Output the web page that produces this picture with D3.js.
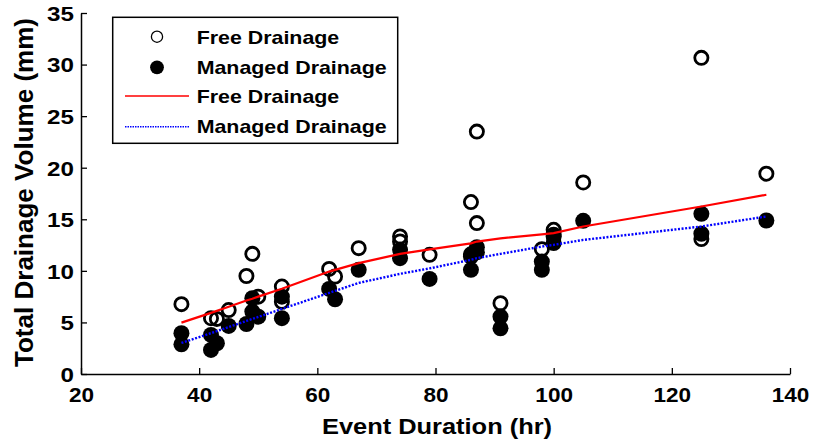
<!DOCTYPE html>
<html><head><meta charset="utf-8">
<script src="https://cdn.jsdelivr.net/npm/d3@7"></script>
<style>
html,body{margin:0;padding:0;background:#fff;}
text{font-family:"Liberation Sans",Arial,sans-serif;font-weight:bold;fill:#000;}
</style></head>
<body>
<svg id="chart" width="819" height="442"></svg>
<script>
// ---- data ----
const xTicks = [20, 40, 60, 80, 100, 120, 140];
const yTicks = [0, 5, 10, 15, 20, 25, 30, 35];

const freeX = [37, 42, 43, 45, 48, 49, 50, 54, 54, 62, 63, 67, 74, 74, 79, 86, 86, 87, 87, 91, 98, 100, 100, 105, 125, 125, 136];
const freeY = [6.77, 5.41, 5.34, 6.2, 9.5, 11.65, 7.5, 8.48, 7.0, 10.19, 9.45, 12.2, 13.33, 12.85, 11.55, 16.67, 11.6, 23.5, 14.63, 6.86, 12.1, 13.98, 13.5, 18.57, 30.65, 13.08, 19.42];

const managedX = [37, 37, 42, 42, 43, 45, 48, 49, 49, 50, 54, 54, 62, 63, 67, 74, 74, 79, 86, 86, 87, 87, 91, 91, 98, 98, 100, 100, 105, 125, 125, 136];
const managedY = [3.95, 2.88, 3.79, 2.33, 2.98, 4.66, 4.85, 7.35, 6.05, 5.56, 7.5, 5.41, 8.25, 7.25, 10.1, 12.04, 11.23, 9.22, 11.39, 10.1, 12.3, 11.8, 5.57, 4.43, 10.9, 10.1, 13.33, 12.69, 14.85, 15.53, 13.6, 14.88];

const fitX = [37, 42, 45, 48, 49, 50, 54, 62, 63, 67, 74, 79, 86, 87, 91, 98, 100, 105, 125, 136];
const fitFree = [4.98, 5.93, 6.52, 7.12, 7.30, 7.50, 8.27, 9.93, 10.1, 10.75, 11.65, 12.09, 12.67, 12.84, 13.15, 13.54, 13.66, 14.3, 16.24, 17.38];
const fitManaged = [3.01, 3.96, 4.55, 5.14, 5.34, 5.53, 6.31, 7.86, 8.06, 8.83, 9.71, 10.24, 11.07, 11.23, 11.65, 12.36, 12.52, 13.0, 14.3, 15.27];

const legendLabels = ["Free Drainage", "Managed Drainage", "Free Drainage", "Managed Drainage"];

// ---- drawing ----
const svg = d3.select("#chart");
const x = d3.scaleLinear().domain([20, 140]).range([81, 790]);
const y = d3.scaleLinear().domain([0, 35]).range([374, 13]);

function stretch(sel, k) {
  sel.each(function () {
    const w = this.getComputedTextLength();
    d3.select(this).attr("textLength", w * k).attr("lengthAdjust", "spacingAndGlyphs");
  });
}

// axes
const gx = svg.append("g").attr("transform", "translate(0,374)")
  .call(d3.axisBottom(x).tickValues(xTicks).tickSizeInner(-6).tickSizeOuter(0).tickPadding(13));
const gy = svg.append("g").attr("transform", "translate(81,0)")
  .call(d3.axisLeft(y).tickValues(yTicks).tickSizeInner(-6).tickSizeOuter(0).tickPadding(7));
[gx, gy].forEach(g => {
  g.select(".domain").attr("stroke", "#000").attr("stroke-width", 1.5);
  g.selectAll(".tick line").attr("stroke", "#000").attr("stroke-width", 1.3);
  g.selectAll(".tick text").style("font-family", "'Liberation Sans',Arial,sans-serif")
    .style("font-weight", "bold").style("font-size", "20.5px").attr("fill", "#000");
});
gy.selectAll(".tick text").attr("dy", "0.36em");
stretch(gx.selectAll(".tick text"), 1.1);
stretch(gy.selectAll(".tick text"), 1.18);

// axis titles
const xt = svg.append("text").attr("x", 437).attr("y", 434).attr("text-anchor", "middle")
  .style("font-size", "22px").text("Event Duration (hr)");
stretch(xt, 1.155);
svg.append("text").attr("transform", "translate(33,192.5) rotate(-90)").attr("text-anchor", "middle")
  .style("font-size", "25px").attr("textLength", 349).attr("lengthAdjust", "spacingAndGlyphs")
  .text("Total Drainage Volume (mm)");

// scatter: free (open) then managed (filled)
svg.append("g").selectAll("circle").data(freeX).join("circle")
  .attr("cx", (d) => x(d)).attr("cy", (d, i) => y(freeY[i])).attr("r", 6.6)
  .attr("fill", "none").attr("stroke", "#000").attr("stroke-width", 2.8);
svg.append("g").selectAll("circle").data(managedX).join("circle")
  .attr("cx", (d) => x(d)).attr("cy", (d, i) => y(managedY[i])).attr("r", 8)
  .attr("fill", "#000");

// fit lines
const lineFree = d3.line().x((d) => x(d)).y((d, i) => y(fitFree[i]));
const lineMan = d3.line().x((d) => x(d)).y((d, i) => y(fitManaged[i]));
svg.append("path").datum(fitX).attr("d", lineFree).attr("fill", "none")
  .attr("stroke", "#ff0000").attr("stroke-width", 2.2);
svg.append("path").datum(fitX).attr("d", lineMan).attr("fill", "none")
  .attr("stroke", "#0000ff").attr("stroke-width", 2.4).attr("stroke-dasharray", "2,1.6");

// legend
const lg = svg.append("g");
lg.append("rect").attr("x", 112.7).attr("y", 17.3).attr("width", 285).attr("height", 126)
  .attr("fill", "#fff").attr("stroke", "#000").attr("stroke-width", 1.5);
const rowsC = [36.7, 67.3, 96, 126.7];
const rowsB = [44, 74, 103.3, 133.3];
lg.append("circle").attr("cx", 157).attr("cy", rowsC[0]).attr("r", 5.6)
  .attr("fill", "none").attr("stroke", "#000").attr("stroke-width", 1.3);
lg.append("circle").attr("cx", 157).attr("cy", rowsC[1]).attr("r", 6.9).attr("fill", "#000");
lg.append("line").attr("x1", 125).attr("x2", 189).attr("y1", rowsC[2]).attr("y2", rowsC[2])
  .attr("stroke", "#ff0000").attr("stroke-width", 1.5);
lg.append("line").attr("x1", 125).attr("x2", 189).attr("y1", rowsC[3]).attr("y2", rowsC[3])
  .attr("stroke", "#0000ff").attr("stroke-width", 1.5).attr("stroke-dasharray", "1.5,1");
legendLabels.forEach((t, i) => {
  const tx = lg.append("text").attr("x", 196.7).attr("y", rowsB[i]).style("font-size", "18.5px").text(t);
  stretch(tx, 1.155);
});
</script>
</body></html>
